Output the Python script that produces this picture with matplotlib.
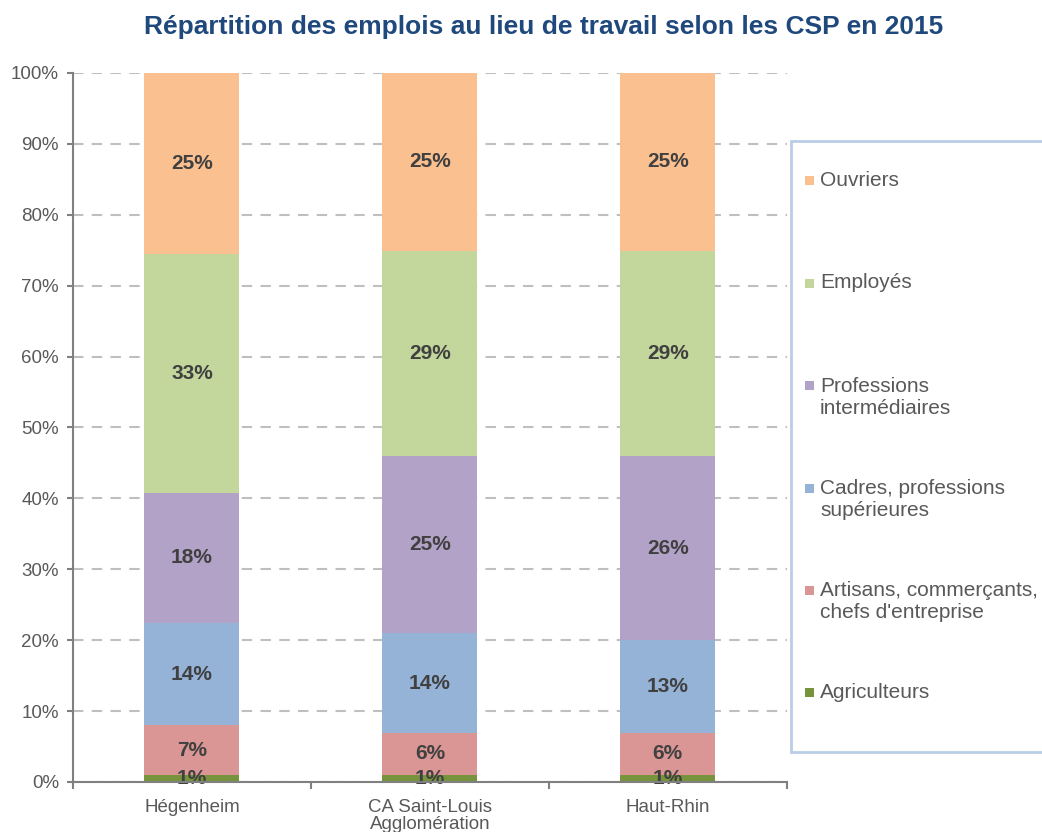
import matplotlib
matplotlib.use("Agg")
import matplotlib.pyplot as plt
from matplotlib.patches import Rectangle
import numpy as np

plt.rcParams['font.family'] = ['Liberation Sans', 'DejaVu Sans']

categories = ["Hégenheim", "CA Saint-Louis\nAgglomération", "Haut-Rhin"]
series_names = ["Agriculteurs", "Artisans, commerçants,\nchefs d'entreprise",
                "Cadres, professions\nsupérieures", "Professions\nintermédiaires",
                "Employés", "Ouvriers"]
agriculteurs = [1.0, 1.0, 1.0]
artisans = [7.0, 5.9, 5.9]
cadres = [14.4, 14.1, 13.1]
professions = [18.4, 25.0, 26.0]
employes = [33.7, 28.9, 28.9]
ouvriers = [25.5, 25.1, 25.1]
labels = {
    "Agriculteurs": ["1%", "1%", "1%"],
    "Artisans": ["7%", "6%", "6%"],
    "Cadres": ["14%", "14%", "13%"],
    "Professions": ["18%", "25%", "26%"],
    "Employés": ["33%", "29%", "29%"],
    "Ouvriers": ["25%", "25%", "25%"],
}
colors = ["#77933C", "#D99694", "#95B3D7", "#B3A2C7", "#C3D69B", "#FAC090"]
yticks = [0, 10, 20, 30, 40, 50, 60, 70, 80, 90, 100]

series = [agriculteurs, artisans, cadres, professions, employes, ouvriers]
label_lists = list(labels.values())

fig = plt.figure(figsize=(10.42, 8.32), dpi=100)
ax = fig.add_axes([0.070, 0.0601, 0.685, 0.8522])

x = np.arange(len(categories))
bottom = np.zeros(len(categories))
for vals, col, labs in zip(series, colors, label_lists):
    vals = np.array(vals)
    ax.bar(x, vals, 0.4, bottom=bottom, color=col, zorder=3)
    for xi, b, v, lab in zip(x, bottom, vals, labs):
        ax.text(xi, b + v / 2, lab, ha='center', va='center', fontsize=15,
                fontweight='bold', color='#404040', zorder=5)
    bottom += vals

ax.set_xlim(-0.5, 2.5)
ax.set_ylim(0, 100)
ax.set_yticks(yticks)
ax.set_yticklabels([f"{t}%" for t in yticks], fontsize=13.5, color='#595959')
ax.yaxis.grid(True, linestyle=(0, (5, 4)), color='#BFBFBF', linewidth=1.5, zorder=0)
ax.set_axisbelow(True)

ax.set_xticks([-0.5, 0.5, 1.5, 2.5])
ax.set_xticklabels([])
ax.set_xticks(x, minor=True)
ax.set_xticklabels(categories, minor=True, fontsize=13.5, color='#595959',
                   linespacing=1.05)
ax.tick_params(axis='x', which='minor', length=0, pad=12)
ax.tick_params(axis='x', which='major', length=5, color='#808080', width=1.5)
ax.tick_params(axis='y', length=4, color='#808080', width=1.5, pad=6)

for s in ['top', 'right']:
    ax.spines[s].set_visible(False)
for s in ['left', 'bottom']:
    ax.spines[s].set_color('#808080')
    ax.spines[s].set_linewidth(1.5)
ax.spines['bottom'].set_zorder(6)

fig.text(0.522, 0.967, "Répartition des emplois au lieu de travail selon les CSP en 2015",
         ha='center', va='center', fontsize=19, fontweight='bold', color='#1F497D')

# Legend box
W, H = 1042, 832
def fx(px): return px / W
def fy(py): return 1 - py / H
fig.patches.append(Rectangle((fx(791), fy(752)), fx(1060) - fx(791), fy(141) - fy(752),
                             transform=fig.transFigure, facecolor='white',
                             edgecolor='#B9CDE5', linewidth=2, zorder=1))
legend_y = [180, 283, 397, 500, 602, 692]
for name, col, py in zip(series_names[::-1], colors[::-1], legend_y):
    nlines = name.count("\n") + 1
    first_line_y = py - (nlines - 1) * 12.5
    fig.patches.append(Rectangle((fx(805), fy(first_line_y + 5)), fx(9), 9 / H,
                                 transform=fig.transFigure, facecolor=col,
                                 edgecolor='none', zorder=2))
    fig.text(fx(820), fy(py), name, ha='left', va='center', fontsize=15,
             color='#595959', linespacing=1.2, zorder=3)

fig.savefig("out.png", dpi=100)
